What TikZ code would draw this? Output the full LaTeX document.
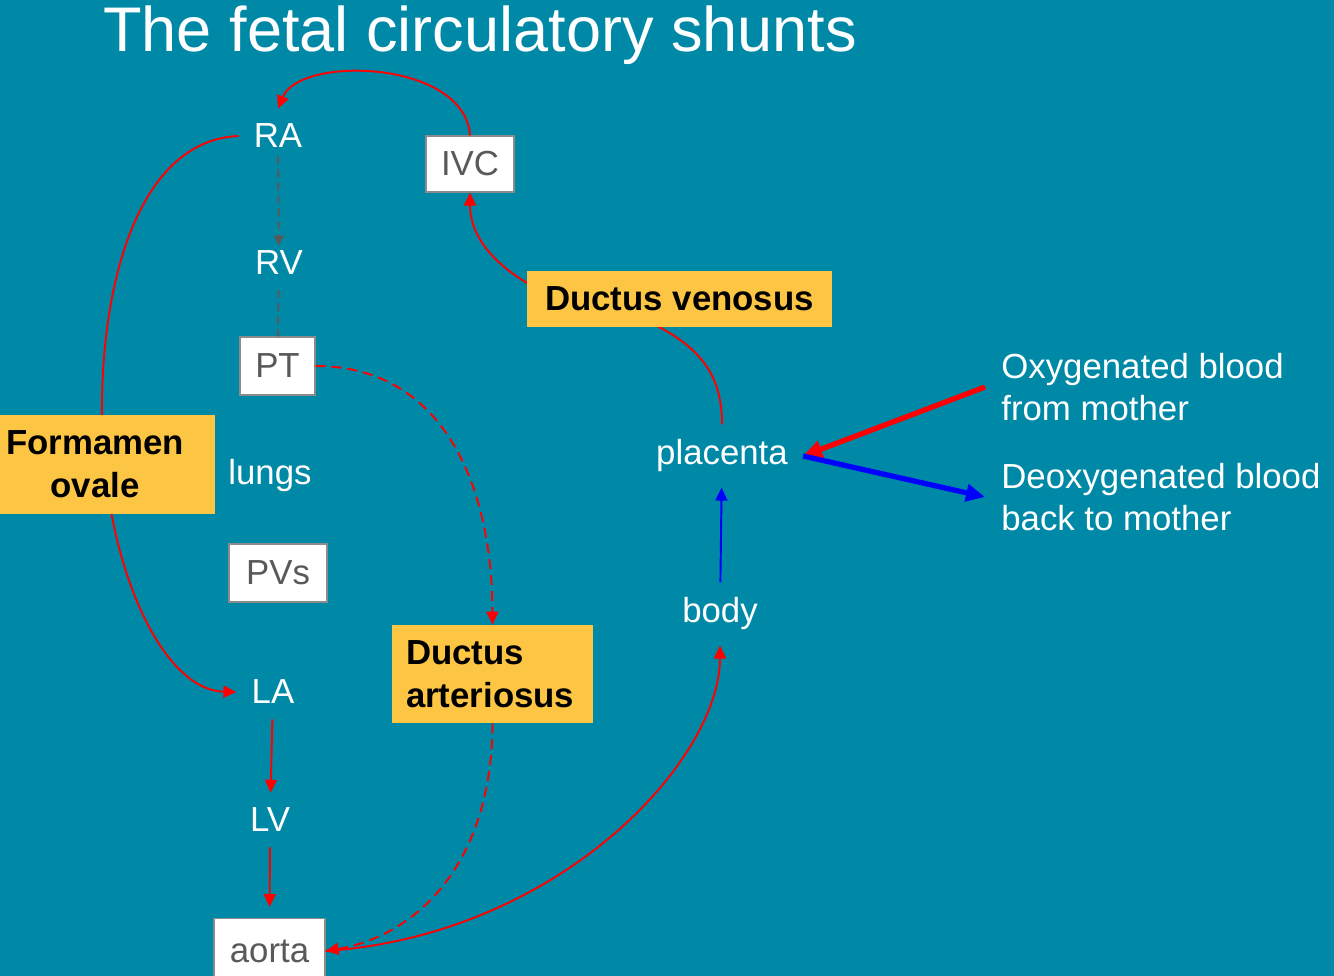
\documentclass[tikz,border=0pt]{standalone}
\usepackage{fontspec}
\setmainfont{Liberation Sans}
\usetikzlibrary{arrows.meta}
\definecolor{sea}{RGB}{0,137,167}
\definecolor{gold}{RGB}{253,197,68}
\definecolor{ink}{RGB}{89,89,89}
\begin{document}
\begin{tikzpicture}[x=0.02cm,y=-0.02cm,
		font=\fontsize{19.8}{24.4}\selectfont,
		lbl/.style={text=white,inner sep=0.3cm},
		box/.style={draw=ink!70,fill=white,text=ink,line width=0.6pt,inner sep=0pt},
		shunt/.style={fill=gold,text=black,inner sep=0pt,font=\fontsize{19.8}{24.4}\selectfont\bfseries},
		flow/.style={red,line width=1.1pt,-{Triangle[length=0.26cm,width=0.24cm]}},
		bypass/.style={flow,dash pattern=on 0.2cm off 0.12cm},
		lungflow/.style={ink,line width=1.1pt,dash pattern=on 0.16cm off 0.1cm},
		bigflow/.style={line width=3pt,-{Triangle[length=0.38cm,width=0.34cm]}}]

		\useasboundingbox (0,0) rectangle (1334,976);
		\fill[sea] (0,0) rectangle (1334,976);

		\node[text=white,anchor=base west,inner sep=0pt,font=\fontsize{35.9}{40}\selectfont] (title) at (103,52) {The fetal circulatory shunts};

		\node[lbl] (ra) at (278,136) {RA};
		\node[lbl] (rv) at (279,263) {RV};
		\node[box,minimum width=1.5cm,minimum height=1.16cm] (pt) at (277.5,366) {PT};
		\node[lbl] (lungs) at (270,476) {lungs};
		\node[box,minimum width=1.96cm,minimum height=1.16cm] (pvs) at (278,573) {PVs};
		\node[lbl] (la) at (273,692) {LA};
		\node[lbl] (lv) at (270,820) {LV};
		\node[box,minimum width=2.22cm,minimum height=1.3cm] (aorta) at (269.5,951) {aorta};
		\node[box,minimum width=1.76cm,minimum height=1.12cm] (ivc) at (470,164) {IVC};
		\node[lbl] (placenta) at (722,456) {placenta};
		\node[lbl] (body) at (720,614) {body};
		\node[lbl,anchor=west,align=left,inner sep=0.32cm] (oxy) at (985,387) {Oxygenated blood\\from mother};
		\node[lbl,anchor=west,align=left,inner sep=0.32cm] (deoxy) at (985,497) {Deoxygenated blood\\back to mother};
		\node[shunt,minimum height=1.96cm,text width=3.46cm,inner xsep=0.28cm,align=left] (da) at (492.5,674) {Ductus\\arteriosus};

		\draw[flow] (ivc.north) .. controls (465,60) and (300,55) .. (ra.north);
		\draw[lungflow,-{Triangle[length=0.2cm,width=0.2cm]},shorten <=-0.14cm,shorten >=-0.2cm] (ra) -- (rv);
		\draw[lungflow] (rv) -- (pt);
		\draw[bypass] (pt.east) .. controls (440,366) and (492,480) .. (da.north);
		\draw[bypass] (da.south) .. controls (492,860) and (420,935) .. (aorta.east);
		\draw[flow] (la) -- (lv);
		\draw[flow,shorten >=0.22cm] (lv) -- (aorta);
		\draw[flow] (aorta.east) .. controls (560,935) and (720,760) .. (body.south);
		\draw[flow,blue] (body) -- (placenta);
		\draw[flow] (ra.west) .. controls (140,140) and (100,280) .. (102,420)
			.. controls (104,560) and (160,690) .. (la.west);
		\draw[flow] (placenta.north) .. controls (722,380) and (705,350) .. (655,325)
			-- (540,290) .. controls (500,270) and (470,240) .. (ivc.south);
		\draw[bigflow,red] (oxy.west) -- (placenta.east);
		\draw[bigflow,blue] (placenta.east) -- (deoxy.west);

		\node[shunt,minimum width=4.8cm,minimum height=1.98cm,align=center] (fo) at (95,464.5) {Formamen\\ovale};
		\node[shunt,minimum width=6.1cm,minimum height=1.12cm] (dv) at (679.5,299) {Ductus venosus};

	\end{tikzpicture}
\end{document}
